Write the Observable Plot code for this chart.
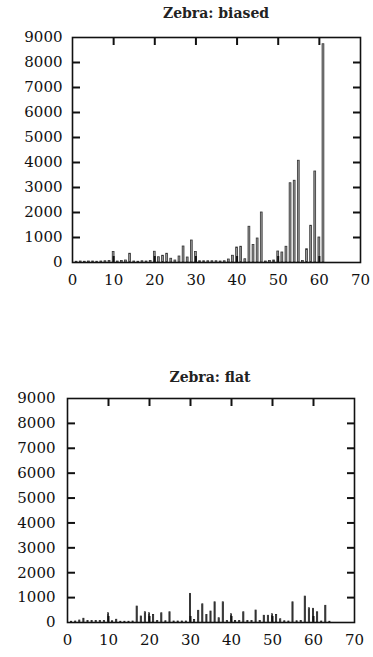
<!DOCTYPE html>
<html>
<head>
<meta charset="utf-8">
<script src="https://cdn.jsdelivr.net/npm/d3@7"></script>
<script src="https://cdn.jsdelivr.net/npm/@observablehq/plot@0.6"></script>
<style>
  body { margin: 0; background: #fff; }
  #wrap { position: relative; width: 373px; height: 657px; overflow: hidden; }
  .title { position: absolute; font-family: "DejaVu Serif", serif; font-weight: bold; font-size: 14px; color: #222; white-space: nowrap; transform: translateX(-50%); }
  .panel { position: absolute; left: 0; }
</style>
</head>
<body>
<div id="wrap"></div>
<script>
// Panel 1: "Zebra: biased"
const biasedX = [1,2,3,4,5,6,7,8,9,10,11,12,13,14,15,16,17,18,19,20,21,22,23,24,25,26,27,28,29,30,31,32,33,34,35,36,37,38,39,40,41,42,43,44,45,46,47,48,49,50,51,52,53,54,55,56,57,58,59,60,61];
const biasedY = [30,40,30,40,40,30,40,50,60,420,40,60,80,350,40,30,50,40,60,430,210,270,350,150,80,240,640,200,880,420,50,50,50,50,50,40,50,120,270,600,630,130,1430,700,960,2000,40,60,80,440,400,630,3170,3270,4070,60,530,1470,3640,1000,8730];

// Panel 2: "Zebra: flat"
const flatX = [1,2,3,4,5,6,7,8,9,10,11,12,13,14,15,16,17,18,19,20,21,22,23,24,25,26,27,28,29,30,31,32,33,34,35,36,37,38,39,40,41,42,43,44,45,46,47,48,49,50,51,52,53,54,55,56,57,58,59,60,61,62,63,64];
const flatY = [30,40,80,150,60,60,60,60,60,370,50,110,30,30,30,40,640,240,410,370,300,60,370,50,410,40,40,40,40,1150,100,470,730,300,440,810,170,810,60,330,60,60,410,60,60,480,60,270,270,330,300,130,50,40,810,50,60,1040,570,550,410,40,670,30];

const xTicks = [0,10,20,30,40,50,60,70];
const yTicks = [0,1000,2000,3000,4000,5000,6000,7000,8000,9000];
const innerXTicks = [10,20,30,40,50,60];
const innerYTicks = [1000,2000,3000,4000,5000,6000,7000,8000];

const titles = ["Zebra: biased", "Zebra: flat"];

function panel(xs, ys, opts) {
  const data = xs.map((x, i) => ({x, y: ys[i]}));
  const tickStyle = {stroke: "#111", strokeWidth: 2};
  return Plot.plot({
    width: 373,
    height: opts.height,
    marginLeft: opts.ml,
    marginRight: opts.mr,
    marginTop: opts.mt,
    marginBottom: opts.mb,
    style: {fontFamily: "DejaVu Serif, serif", fontSize: "15px", color: "#111", background: "#fff"},
    x: {domain: [0, 70], label: null},
    y: {domain: [0, 9000], label: null},
    marks: [
      Plot.rectY(data, {x1: d => d.x - opts.hw, x2: d => d.x + opts.hw, y: "y", fill: opts.fill, stroke: opts.stroke, strokeWidth: 0.8}),
      Plot.axisX(xTicks, {anchor: "bottom", tickSize: 0, tickPadding: 12, fontSize: 15, tickFormat: d3.format("d"), label: null}),
      Plot.axisY(yTicks, {anchor: "left", tickSize: 0, tickPadding: opts.ypad, fontSize: 15, tickFormat: d3.format("d"), label: null}),
      Plot.axisX(innerXTicks, {anchor: "top", tickSize: 7, dy: 7, text: null, label: null, ...tickStyle}),
      Plot.axisX(innerXTicks, {anchor: "bottom", tickSize: 6, dy: -6, text: null, label: null, ...tickStyle}),
      Plot.axisY(innerYTicks, {anchor: "left", tickSize: 8, dx: 8, text: null, label: null, ...tickStyle}),
      Plot.axisY(innerYTicks, {anchor: "right", tickSize: 8, dx: -8, text: null, label: null, ...tickStyle}),
      Plot.frame({stroke: "#111", strokeWidth: 1.6})
    ]
  });
}

const wrap = document.getElementById("wrap");

const t1 = document.createElement("div");
t1.className = "title"; t1.textContent = titles[0];
t1.style.left = "216px"; t1.style.top = "5px";
wrap.appendChild(t1);

const p1 = panel(biasedX, biasedY, {height: 276, ml: 72, mr: 13, mt: 13, mb: 38, ypad: 10, hw: 0.22, fill: "#9a9a9a", stroke: "#333"});
p1.classList.add("panel"); p1.style.top = "24px";
wrap.appendChild(p1);

const t2 = document.createElement("div");
t2.className = "title"; t2.textContent = titles[1];
t2.style.left = "210px"; t2.style.top = "369px";
wrap.appendChild(t2);

const p2 = panel(flatX, flatY, {height: 269, ml: 67, mr: 19, mt: 10, mb: 35, ypad: 12, hw: 0.14, fill: "#444", stroke: "#222"});
p2.classList.add("panel"); p2.style.top = "388px";
wrap.appendChild(p2);
</script>
</body>
</html>
